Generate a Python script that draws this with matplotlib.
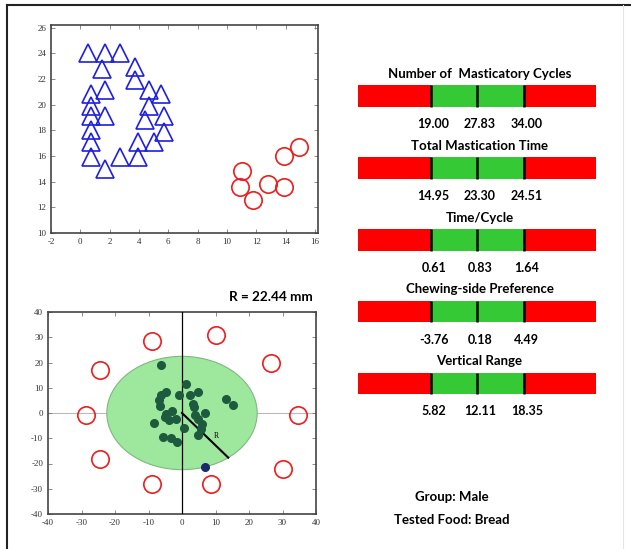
import matplotlib
matplotlib.use('Agg')
import matplotlib.pyplot as plt
from matplotlib.lines import Line2D
from matplotlib.patches import Ellipse
import numpy as np

plt.rcParams['axes.unicode_minus'] = False

# top scatter: chewing pattern (triangles) and reference (circles)
tri_x = [0.5, 1.7, 2.7, 1.5, 3.7, 3.7, 1.7, 0.7, 4.7, 5.5, 0.7, 0.7, 1.7,
         4.7, 5.7, 4.4, 0.7, 5.7, 0.7, 3.9, 5.0, 0.7, 2.7, 3.9, 1.7]
tri_y = [24.0, 24.0, 24.0, 22.8, 22.9, 21.95, 21.1, 20.8, 21.1, 20.8, 19.9,
         19.1, 19.1, 19.9, 19.1, 18.8, 18.0, 17.9, 17.05, 17.05, 17.05, 15.9,
         15.9, 15.9, 15.0]
ref_x = [11.0, 10.9, 11.8, 12.8, 13.9, 13.9, 14.9]
ref_y = [14.8, 13.6, 12.6, 13.8, 16.0, 13.6, 16.7]

# bottom scatter: jaw positions
ring_x = [-8.9, 10.2, 26.5, -24.5, -28.8, 34.5, -24.5, 30.1, -8.9, 8.6]
ring_y = [28.5, 30.7, 19.9, 16.9, -0.7, -0.7, -18.3, -22.3, -28.2, -28.2]
dot_x = [-6.15, 1.2, -4.7, -6.3, -6.9, -6.45, -0.8, 2.4, 4.8, 3.4, 3.5, 13.0,
         15.1, -2.9, -4.8, -5.1, -3.8, -1.9, -8.4, 4.0, 4.8, 6.9, 6.1, 5.6,
         4.9, 0.7, -5.6, -3.2, -1.4]
dot_y = [18.9, 11.3, 8.3, 7.0, 5.0, 2.8, 7.3, 7.3, 8.2, 3.7, 2.4, 5.7, 3.0,
         0.7, -0.3, -1.6, -2.9, -2.2, -3.8, -0.9, -2.2, 0.0, -4.5, -6.2, -8.6,
         -5.8, -9.6, -9.8, -11.6]
outlier_x = [6.8]
outlier_y = [-21.4]
R_VALUE = 22.44
R_ANGLE = -52

# right panel: normal ranges
metrics = ['Number of  Masticatory Cycles', 'Total Mastication Time',
           'Time/Cycle', 'Chewing-side Preference', 'Vertical Range']
low_vals = ['19.00', '14.95', '0.61', '-3.76', '5.82']
mid_vals = ['27.83', '23.30', '0.83', '0.18', '12.11']
high_vals = ['34.00', '24.51', '1.64', '4.49', '18.35']
group_label = 'Group: Male'
food_label = 'Tested Food: Bread'

W, H = 631, 549
fig = plt.figure(figsize=(W / 100, H / 100), dpi=100)
fig.patch.set_facecolor('white')

bold_font = ['Lato', 'DejaVu Sans']
serif_font = ['Liberation Serif', 'DejaVu Serif']


def style_axes(ax):
    for sp in ax.spines.values():
        sp.set_color('#444444')
        sp.set_linewidth(1.2)
    ax.tick_params(direction='in', length=3, width=0.6, colors='#777777',
                   labelcolor='#333333', labelsize=6.5, top=True, right=True)
    for lab in ax.get_xticklabels() + ax.get_yticklabels():
        lab.set_family(serif_font)


# top plot
ax1 = fig.add_axes([51 / W, 1 - 233 / H, 267 / W, 208 / H])
ax1.plot(tri_x, tri_y, '^', ms=13.5, mfc='none', mec='#1f1fe0', mew=1.2)
ax1.plot(ref_x, ref_y, 'o', ms=12.5, mfc='none', mec='#ee1c1c', mew=1.2)
ax1.set_xlim(-2, 16.2)
ax1.set_ylim(10, 26.2)
ax1.set_xticks(np.arange(-2, 17, 2))
ax1.set_yticks(np.arange(10, 27, 2))
style_axes(ax1)

# bottom plot
ax2 = fig.add_axes([48 / W, 1 - 514 / H, 268 / W, 202 / H])
ax2.axhline(0, color='#bbbbbb', lw=0.8, zorder=1)
ax2.add_patch(Ellipse((0, 0), 2 * R_VALUE, 2 * R_VALUE, facecolor='#9de89d',
                      edgecolor='#7fb87f', lw=0.8, zorder=2))
ax2.axvline(0, color='black', lw=0.9, zorder=3)
ang = np.deg2rad(R_ANGLE)
ax2.plot([0, R_VALUE * np.cos(ang)], [0, R_VALUE * np.sin(ang)],
         color='black', lw=1.5, zorder=4)
ax2.text(10.2, -9.1, 'R', fontsize=5.5, family=serif_font, ha='center',
         va='center', zorder=6)
ax2.plot(dot_x, dot_y, 'o', ms=5.5, color='#1d5a3e', zorder=5)
ax2.plot(outlier_x, outlier_y, 'o', ms=5.5, color='#1b2a6b', zorder=5)
ax2.plot(ring_x, ring_y, 'o', ms=12.5, mfc='none', mec='#ee1c1c', mew=1.2,
         zorder=5)
ax2.set_xlim(-40, 40)
ax2.set_ylim(-40, 40)
ax2.set_xticks(np.arange(-40, 41, 10))
ax2.set_yticks(np.arange(-40, 41, 10))
style_axes(ax2)
fig.text(313 / W, 1 - 297 / H, f'R = {R_VALUE:.2f} mm', ha='right', va='center',
         fontsize=9.8, fontweight='bold', family=bold_font)

# right panel bars
ax3 = fig.add_axes([358.3 / W, 93.8 / H, 237.7 / W, 430.8 / H])
ax3.set_xlim(0, 1)
ax3.set_ylim(5, -1)
ax3.axis('off')
rows = np.arange(len(metrics))
lo, hi = 0.305, 0.697
ax3.barh(rows, lo, left=0, height=0.3, color='#ff0000')
ax3.barh(rows, hi - lo, left=lo, height=0.3, color='#36c936')
ax3.barh(rows, 1 - hi, left=hi, height=0.3, color='#ff0000')
for r in rows:
    ax3.vlines([lo, 0.5, hi], r - 0.15, r + 0.15, color='black', lw=1.8)
    ax3.text(0.51, r - 0.31, metrics[r], ha='center', va='center',
             fontsize=9.5, fontweight='bold', family=bold_font)
    for xv, txt in zip([lo, 0.5, hi], [low_vals[r], mid_vals[r], high_vals[r]]):
        ax3.text(xv + 0.012, r + 0.39, txt, ha='center', va='center',
                 fontsize=9, fontweight='bold', family=bold_font)

fig.text(451.7 / W, 1 - 496.7 / H, group_label, ha='center', va='center',
         fontsize=9.5, fontweight='bold', family=bold_font)
fig.text(451.7 / W, 1 - 520 / H, food_label, ha='center', va='center',
         fontsize=9.5, fontweight='bold', family=bold_font)

# outer frame
fig.add_artist(Line2D([7 / W, 1], [1 - 5 / H, 1 - 5 / H], color='#222222', lw=1.5))
fig.add_artist(Line2D([7 / W, 7 / W], [1 - 5 / H, 0], color='#222222', lw=1.5))
fig.add_artist(Line2D([623 / W, 623 / W], [1 - 5 / H, 0], color='#e4e4e4', lw=0.8))

fig.savefig('out.png', dpi=100)
plt.close(fig)
